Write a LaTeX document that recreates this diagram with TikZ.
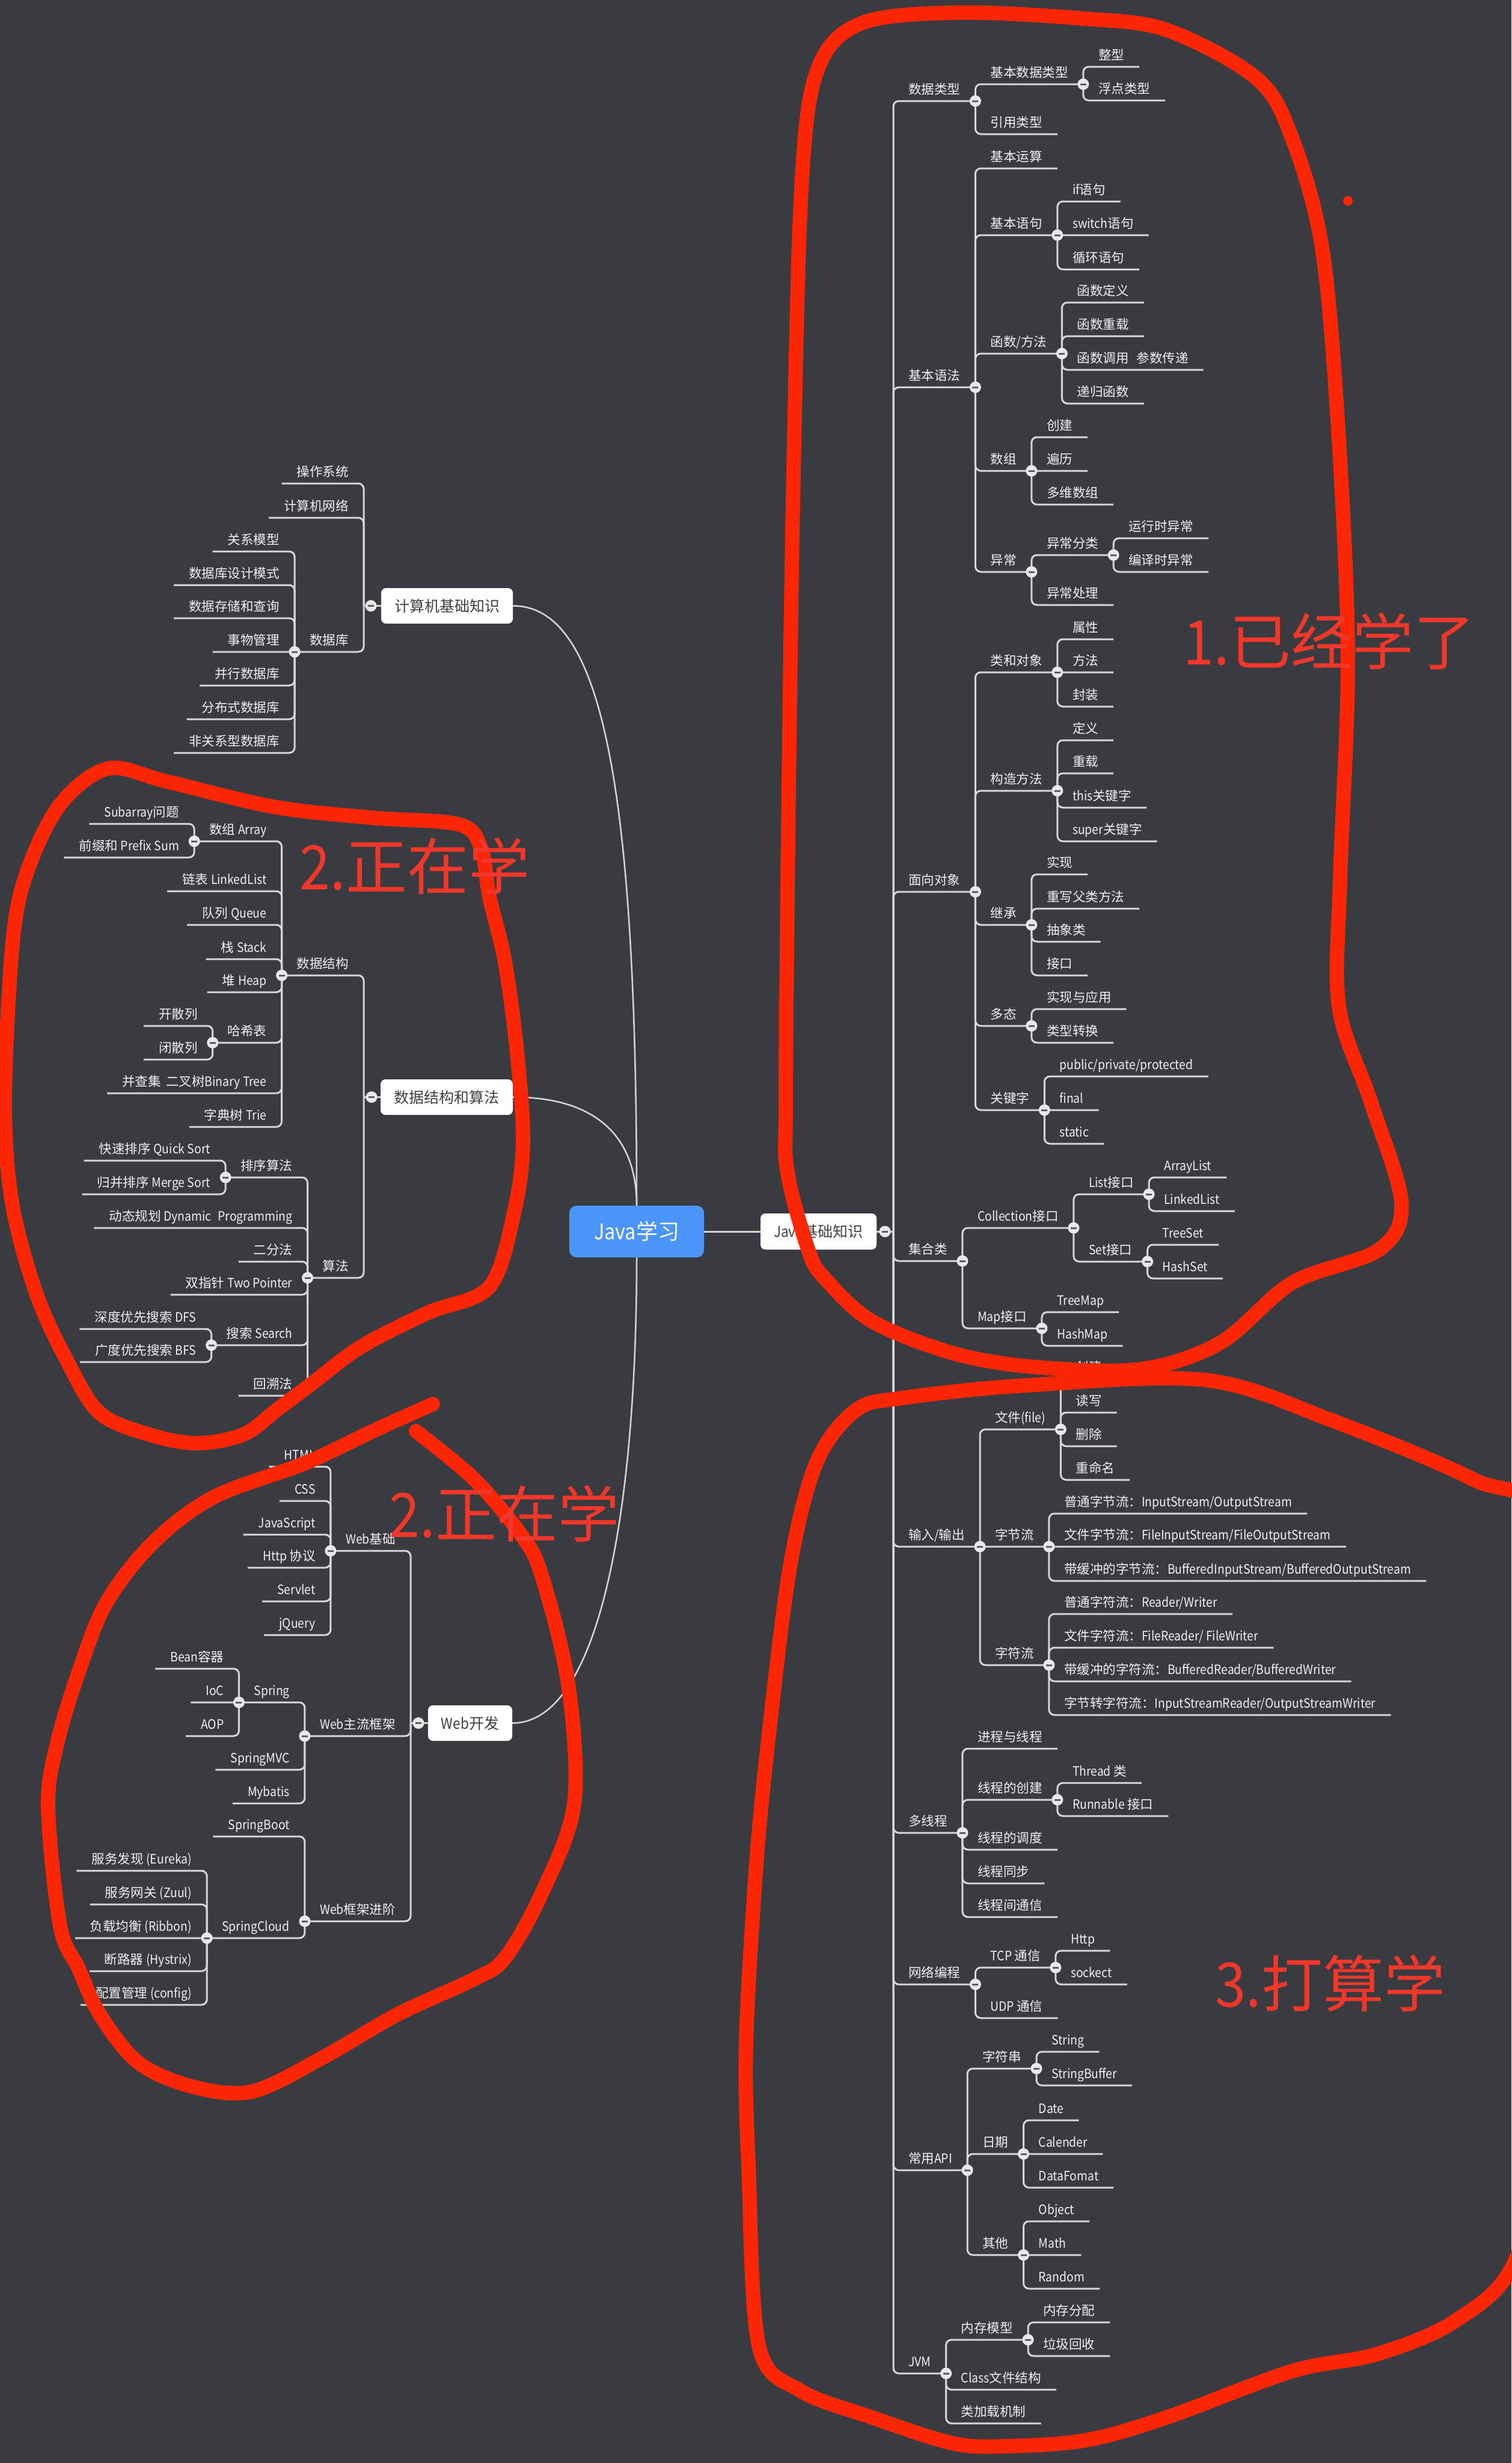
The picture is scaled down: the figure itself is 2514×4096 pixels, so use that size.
\documentclass[tikz,border=0pt]{standalone}
\usepackage{fontspec}
\setmainfont{Noto Sans CJK SC}
\newfontfamily\cjkfam{Noto Sans CJK SC}
\newfontfamily\latfam{Noto Sans CJK SC}[FakeStretch=0.9]
% switch automatically between CJK glyphs (normal) and narrower Latin glyphs
\newcount\cccount
\cccount="3000 \loop \XeTeXcharclass\cccount=1 \advance\cccount by 1 \ifnum\cccount<"A000 \repeat
\cccount="FF00 \loop \XeTeXcharclass\cccount=1 \advance\cccount by 1 \ifnum\cccount<"FFF0 \repeat
\XeTeXinterchartokenstate=1
\XeTeXinterchartoks 0 1 = {\cjkfam}
\XeTeXinterchartoks 4095 1 = {\cjkfam}
\XeTeXinterchartoks 1 0 = {\latfam}
\XeTeXinterchartoks 4095 0 = {\latfam}
\usetikzlibrary{calc}
\definecolor{bgc}{HTML}{393B40}
\definecolor{linec}{HTML}{D6D6D6}
\definecolor{txtc}{HTML}{F0F0F0}
\definecolor{btnf}{HTML}{E8E8E8}
\definecolor{btnm}{HTML}{5A5C60}
\definecolor{redl}{RGB}{250,38,5}
\definecolor{redt}{RGB}{240,55,42}
\definecolor{javablue}{HTML}{4A95F7}
\definecolor{boxtxt}{HTML}{404040}
\pgfdeclarelayer{bg}
\pgfdeclarelayer{lines}
\pgfsetlayers{bg,lines,main}
\tikzset{
  lbl/.style={font=\fontsize{21.5}{24}\selectfont, text=txtc, inner xsep=25pt, inner ysep=7pt, text height=17pt, text depth=4pt},
  conn/.style={draw=linec, line width=3pt, rounded corners=9pt},
  curvel/.style={draw=linec, line width=2.5pt},
  btn/.style={circle, fill=btnf, minimum size=19pt, inner sep=0pt,
    path picture={\draw[btnm, line width=3pt] ([xshift=-5pt]path picture bounding box.center) -- ([xshift=5pt]path picture bounding box.center);}},
  topbox/.style={rounded corners=8pt, fill=white, text=boxtxt, font=\fontsize{25}{28}\selectfont, inner sep=0pt},
  redloop/.style={draw=redl, line width=24pt, line cap=round, line join=round},
  redtext/.style={text=redt, font=\fontsize{102}{110}\selectfont, inner sep=0pt}
}
% right child: name, parent junction, y of line, text
\newcommand{\Rc}[4]{%
  \node[lbl, anchor=south west] (#1) at (#2 |- 0,#3) {#4};
  \coordinate (#1j) at (#1.south east);
  \begin{pgfonlayer}{lines}\draw[conn] (#2) |- (#1j);\end{pgfonlayer}}
% left child
\newcommand{\Lc}[4]{%
  \node[lbl, anchor=south east] (#1) at (#2 |- 0,#3) {#4};
  \coordinate (#1j) at (#1.south west);
  \begin{pgfonlayer}{lines}\draw[conn] (#2) |- (#1j);\end{pgfonlayer}}
\newcommand{\Bt}[1]{\node[btn] (#1b) at (#1j) {};}

\begin{document}
\begin{tikzpicture}[x=1pt,y=-1pt]
\begin{pgfonlayer}{bg}\fill[bgc] (0,0) rectangle (2514,4096);\end{pgfonlayer}
\useasboundingbox (0,0) rectangle (2514,4096);

% central nodes
\node[rounded corners=12pt, fill=javablue, text=white, font=\fontsize{36}{40}\selectfont, minimum width=224pt, minimum height=86pt, inner sep=0pt] (java) at (1059,2048) {Java学习};
\node[topbox, minimum width=193pt, minimum height=60pt] (jbase) at (1361.5,2048) {Java基础知识};
\node[topbox, minimum width=219pt, minimum height=59pt] (cbase) at (743.5,1007.5) {计算机基础知识};
\node[topbox, minimum width=220pt, minimum height=59pt] (dsa) at (743,1824.5) {数据结构和算法};
\node[topbox, minimum width=140pt, minimum height=59pt] (web) at (782,2865.5) {Web开发};

\begin{pgfonlayer}{lines}
\draw[conn] (java.east) -- (jbase.west);
\draw[curvel] (cbase.east) .. controls (1000,1007.5) and (1059,1300) .. (java.north);
\draw[curvel] (dsa.east) .. controls (980,1824.5) and (1059,1880) .. (java.north);
\draw[curvel] (web.east) .. controls (1000,2865.5) and (1059,2500) .. (java.south);
\end{pgfonlayer}

% ---------- right: Java基础知识 ----------
\coordinate (jt) at (1486,2048);
\begin{pgfonlayer}{lines}\draw[conn] (jbase.east) -- (jt);\end{pgfonlayer}
\node[btn] (jtb) at (1472,2048) {};

\Rc{dt}{jt}{168}{数据类型}\Bt{dt}
 \Rc{jbsj}{dtj}{140}{基本数据类型}\Bt{jbsj}
  \Rc{zx}{jbsjj}{111}{整型}
  \Rc{fd}{jbsjj}{167}{浮点类型}
 \Rc{yy}{dtj}{223}{引用类型}
\Rc{yf}{jt}{644}{基本语法}\Bt{yf}
 \Rc{ys}{yfj}{280}{基本运算}
 \Rc{yj}{yfj}{391}{基本语句}\Bt{yj}
  \Rc{ifs}{yjj}{335}{if语句}
  \Rc{sw}{yjj}{391}{switch语句}
  \Rc{xh}{yjj}{448}{循环语句}
 \Rc{hs}{yfj}{588}{函数/方法}\Bt{hs}
  \Rc{hsdy}{hsj}{503}{函数定义}
  \Rc{hscz}{hsj}{559}{函数重载}
  \Rc{hsdiao}{hsj}{615}{函数调用\hspace{0.6em}参数传递}
  \Rc{dg}{hsj}{671}{递归函数}
 \Rc{sz}{yfj}{783}{数组}\Bt{sz}
  \Rc{cj}{szj}{727}{创建}
  \Rc{bl}{szj}{783}{遍历}
  \Rc{dw}{szj}{839}{多维数组}
 \Rc{yc}{yfj}{951}{异常}\Bt{yc}
  \Rc{ycfl}{ycj}{923}{异常分类}\Bt{ycfl}
   \Rc{yxs}{ycflj}{895}{运行时异常}
   \Rc{byz}{ycflj}{951}{编译时异常}
  \Rc{ycc}{ycj}{1006}{异常处理}
\Rc{mx}{jt}{1483}{面向对象}\Bt{mx}
 \Rc{ld}{mxj}{1118}{类和对象}\Bt{ld}
  \Rc{sx}{ldj}{1063}{属性}
  \Rc{ff}{ldj}{1118}{方法}
  \Rc{fz}{ldj}{1175}{封装}
 \Rc{gz}{mxj}{1315}{构造方法}\Bt{gz}
  \Rc{gzdy}{gzj}{1231}{定义}
  \Rc{gzcz}{gzj}{1286}{重载}
  \Rc{thiskw}{gzj}{1343}{this关键字}
  \Rc{superkw}{gzj}{1399}{super关键字}
 \Rc{jc}{mxj}{1538}{继承}\Bt{jc}
  \Rc{sxian}{jcj}{1454}{实现}
  \Rc{cx}{jcj}{1511}{重写父类方法}
  \Rc{cxl}{jcj}{1566}{抽象类}
  \Rc{jk}{jcj}{1622}{接口}
 \Rc{dtai}{mxj}{1706}{多态}\Bt{dtai}
  \Rc{sxyy}{dtaij}{1678}{实现与应用}
  \Rc{lxzh}{dtaij}{1734}{类型转换}
 \Rc{gjz}{mxj}{1846}{关键字}\Bt{gjz}
  \Rc{ppp}{gjzj}{1790}{public/private/protected}
  \Rc{finalkw}{gjzj}{1846}{final}
  \Rc{statickw}{gjzj}{1902}{static}
\Rc{jh}{jt}{2097}{集合类}\Bt{jh}
 \Rc{coll}{jhj}{2042}{Collection接口}\Bt{coll}
  \Rc{listi}{collj}{1986}{List接口}\Bt{listi}
   \Rc{al}{listij}{1958}{ArrayList}
   \Rc{ll}{listij}{2014}{LinkedList}
  \Rc{seti}{collj}{2098}{Set接口}\Bt{seti}
   \Rc{ts}{setij}{2070}{TreeSet}
   \Rc{hset}{setij}{2126}{HashSet}
 \Rc{mapi}{jhj}{2209}{Map接口}\Bt{mapi}
  \Rc{tm}{mapij}{2182}{TreeMap}
  \Rc{hm}{mapij}{2238}{HashMap}
\Rc{io}{jt}{2572}{输入/输出}\Bt{io}
 \Rc{file}{ioj}{2377}{文件(file)}\Bt{file}
  \Rc{fcj}{filej}{2293}{创建}
  \Rc{dx}{filej}{2349}{读写}
  \Rc{sc}{filej}{2405}{删除}
  \Rc{cmm}{filej}{2461}{重命名}
 \Rc{zjl}{ioj}{2572}{字节流}\Bt{zjl}
  \Rc{zja}{zjlj}{2517}{普通字节流：InputStream/OutputStream}
  \Rc{zjb}{zjlj}{2572}{文件字节流：FileInputStream/FileOutputStream}
  \Rc{zjc}{zjlj}{2629}{带缓冲的字节流：BufferedInputStream/BufferedOutputStream}
 \Rc{zfl}{ioj}{2769}{字符流}\Bt{zfl}
  \Rc{zfa}{zflj}{2684}{普通字符流：Reader/Writer}
  \Rc{zfb}{zflj}{2740}{文件字符流：FileReader/ FileWriter}
  \Rc{zfc}{zflj}{2796}{带缓冲的字符流：BufferedReader/BufferedWriter}
  \Rc{zfd}{zflj}{2852}{字节转字符流：InputStreamReader/OutputStreamWriter}
\Rc{dxc}{jt}{3048}{多线程}\Bt{dxc}
 \Rc{jcyx}{dxcj}{2908}{进程与线程}
 \Rc{xccj}{dxcj}{2993}{线程的创建}\Bt{xccj}
  \Rc{thr}{xccjj}{2965}{Thread 类}
  \Rc{run}{xccjj}{3020}{Runnable 接口}
 \Rc{xcdd}{dxcj}{3076}{线程的调度}
 \Rc{xctb}{dxcj}{3132}{线程同步}
 \Rc{xctx}{dxcj}{3188}{线程间通信}
\Rc{wl}{jt}{3300}{网络编程}\Bt{wl}
 \Rc{tcp}{wlj}{3272}{TCP 通信}\Bt{tcp}
  \Rc{http}{tcpj}{3244}{Http}
  \Rc{sock}{tcpj}{3300}{sockect}
 \Rc{udp}{wlj}{3356}{UDP 通信}
\Rc{api}{jt}{3609}{常用API}\Bt{api}
 \Rc{zfcs}{apij}{3440}{字符串}\Bt{zfcs}
  \Rc{str}{zfcsj}{3412}{String}
  \Rc{sb}{zfcsj}{3468}{StringBuffer}
 \Rc{rq}{apij}{3582}{日期}\Bt{rq}
  \Rc{date}{rqj}{3526}{Date}
  \Rc{cal}{rqj}{3582}{Calender}
  \Rc{df}{rqj}{3638}{DataFomat}
 \Rc{qt}{apij}{3750}{其他}\Bt{qt}
  \Rc{obj}{qtj}{3694}{Object}
  \Rc{math}{qtj}{3750}{Math}
  \Rc{rand}{qtj}{3806}{Random}
\Rc{jvm}{jt}{3947}{JVM}\Bt{jvm}
 \Rc{ncmx}{jvmj}{3891}{内存模型}\Bt{ncmx}
  \Rc{ncfp}{ncmxj}{3862}{内存分配}
  \Rc{ljhs}{ncmxj}{3918}{垃圾回收}
 \Rc{cls}{jvmj}{3974}{Class文件结构}
 \Rc{ljz}{jvmj}{4030}{类加载机制}

% ---------- left: 计算机基础知识 ----------
\coordinate (cj) at (605,1007.5);
\begin{pgfonlayer}{lines}\draw[conn] (cbase.west) -- (cj);\end{pgfonlayer}
\node[btn] (cjb) at (617,1007.5) {};
\Lc{czxt}{cj}{804}{操作系统}
\Lc{jsjwl}{cj}{861}{计算机网络}
\Lc{sjk}{cj}{1084}{数据库}\Bt{sjk}
 \Lc{gxmx}{sjkj}{917}{关系模型}
 \Lc{sjksj}{sjkj}{973}{数据库设计模式}
 \Lc{sjcc}{sjkj}{1028}{数据存储和查询}
 \Lc{swgl}{sjkj}{1084}{事物管理}
 \Lc{bxsjk}{sjkj}{1140}{并行数据库}
 \Lc{fbs}{sjkj}{1196}{分布式数据库}
 \Lc{fgx}{sjkj}{1252}{非关系型数据库}

% ---------- left: 数据结构和算法 ----------
\coordinate (dj) at (605,1824.5);
\begin{pgfonlayer}{lines}\draw[conn] (dsa.west) -- (dj);\end{pgfonlayer}
\node[btn] (djb) at (618,1824.5) {};
\Lc{sjjg}{dj}{1622}{数据结构}\Bt{sjjg}
 \Lc{arr}{sjjgj}{1399}{数组 Array}\Bt{arr}
  \Lc{sub}{arrj}{1370}{Subarray问题}
  \Lc{pre}{arrj}{1426}{前缀和 Prefix Sum}
 \Lc{lb}{sjjgj}{1482}{链表 LinkedList}
 \Lc{dl}{sjjgj}{1538}{队列 Queue}
 \Lc{zhan}{sjjgj}{1595}{栈 Stack}
 \Lc{dui}{sjjgj}{1650}{堆 Heap}
 \Lc{hxb}{sjjgj}{1734}{哈希表}\Bt{hxb}
  \Lc{ksl}{hxbj}{1706}{开散列}
  \Lc{bsl}{hxbj}{1762}{闭散列}
 \Lc{bcj}{sjjgj}{1818}{并查集\hspace{0.4em}二叉树Binary Tree}
 \Lc{trie}{sjjgj}{1874}{字典树 Trie}
\Lc{sf}{dj}{2125}{算法}\Bt{sf}
 \Lc{px}{sfj}{1958}{排序算法}\Bt{px}
  \Lc{qs}{pxj}{1930}{快速排序 Quick Sort}
  \Lc{ms}{pxj}{1986}{归并排序 Merge Sort}
 \Lc{dp}{sfj}{2042}{动态规划 Dynamic\hspace{0.5em}Programming}
 \Lc{efs}{sfj}{2098}{二分法}
 \Lc{szz}{sfj}{2153}{双指针 Two Pointer}
 \Lc{ss}{sfj}{2237}{搜索 Search}\Bt{ss}
  \Lc{dfs}{ssj}{2210}{深度优先搜索 DFS}
  \Lc{bfs}{ssj}{2265}{广度优先搜索 BFS}
 \Lc{hsf}{sfj}{2321}{回溯法}

% ---------- left: Web开发 ----------
\coordinate (wj) at (683,2865.5);
\begin{pgfonlayer}{lines}\draw[conn] (web.west) -- (wj);\end{pgfonlayer}
\node[btn] (wjb) at (696,2865.5) {};
\Lc{wjc}{wj}{2579}{Web基础}\Bt{wjc}
 \Lc{html}{wjcj}{2439}{HTML}
 \Lc{css}{wjcj}{2496}{CSS}
 \Lc{js}{wjcj}{2552}{JavaScript}
 \Lc{httpx}{wjcj}{2607}{Http 协议}
 \Lc{serv}{wjcj}{2663}{Servlet}
 \Lc{jq}{wjcj}{2719}{jQuery}
\Lc{wzl}{wj}{2887}{Web主流框架}\Bt{wzl}
 \Lc{spring}{wzlj}{2831}{Spring}\Bt{spring}
  \Lc{bean}{springj}{2775}{Bean容器}
  \Lc{ioc}{springj}{2831}{IoC}
  \Lc{aop}{springj}{2887}{AOP}
 \Lc{mvc}{wzlj}{2943}{SpringMVC}
 \Lc{myb}{wzlj}{2999}{Mybatis}
\Lc{wjj}{wj}{3195}{Web框架进阶}\Bt{wjj}
 \Lc{boot}{wjjj}{3054}{SpringBoot}
 \Lc{cloud}{wjjj}{3223}{SpringCloud}\Bt{cloud}
  \Lc{eur}{cloudj}{3111}{服务发现 (Eureka)}
  \Lc{zuul}{cloudj}{3167}{服务网关 (Zuul)}
  \Lc{rib}{cloudj}{3223}{负载均衡 (Ribbon)}
  \Lc{hys}{cloudj}{3278}{断路器 (Hystrix)}
  \Lc{cfg}{cloudj}{3334}{配置管理 (config)}

% ---------- red annotations ----------
\draw[redloop] plot[smooth cycle, tension=0.55] coordinates {
 (1307,1829) (1312,1307) (1320,784) (1333,314) (1359,118) (1432,39) (1594,21) (1803,31)
 (1941,50) (2091,131) (2150,232) (2200,418) (2227,732) (2242,1098) (2229,1463) (2227,1673)
 (2279,1829) (2331,1999) (2294,2078) (2150,2133) (2030,2233) (1896,2277) (1718,2273)
 (1584,2250) (1450,2197) (1373,2127) (1346,2083) (1310,1950)};
\draw[redloop] plot[smooth cycle, tension=0.55] coordinates {
 (21,1568) (45,1450) (100,1338) (180,1278) (279,1300) (457,1342) (620,1360) (763,1371)
 (800,1410) (814,1491) (840,1600) (860,1750) (870,1900) (855,2017) (814,2140) (712,2183)
 (600,2240) (520,2300) (460,2345) (406,2385) (330,2400) (253,2387) (166,2350) (110,2260)
 (60,2150) (20,2000) (8,1829)};
\draw[redloop] plot[smooth, tension=0.55] coordinates {
 (720,2335) (620,2380) (508,2433) (355,2490) (253,2567) (176,2667) (130,2783) (95,2900)
 (80,3005) (100,3203) (131,3274) (166,3350) (230,3430) (320,3470) (420,3478) (540,3420)
 (661,3350) (789,3291) (840,3256) (900,3151) (955,3000) (945,2800) (900,2617) (865,2550)
 (789,2460) (692,2380)};
\draw[redloop] plot[smooth cycle, tension=0.55] coordinates {
 (1424,2345) (1500,2325) (1705,2304) (2005,2295) (2215,2362) (2450,2460) (2560,2540)
 (2600,3000) (2580,3500) (2520,3760) (2420,3860) (2290,3915) (2150,3943) (1941,4020)
 (1807,4058) (1673,4068) (1584,4063) (1450,4020) (1330,3975) (1262,3900) (1245,3600)
 (1241,3397) (1258,3100) (1280,2875) (1315,2600) (1359,2430)};
\fill[redl] (2242,334) circle (8);

\node[redtext] (r1) at (2211,1066) {1.已经学了};
\node[redtext] (r2) at (690,1440) {2.正在学};
\node[redtext] (r3) at (839,2517) {2.正在学};
\node[redtext] (r4) at (2213,3298) {3.打算学};
\end{tikzpicture}
\end{document}
